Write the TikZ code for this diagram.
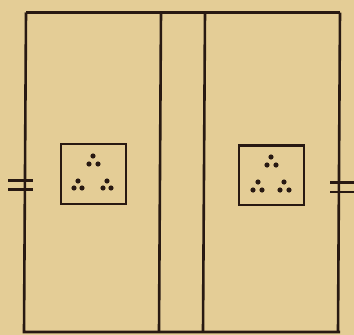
\documentclass[tikz,border=0pt]{standalone}
\definecolor{paper}{RGB}{228,205,150}
\definecolor{ink}{RGB}{40,25,18}
\begin{document}
\begin{tikzpicture}[x=1pt,y=-1pt,
  ln/.style={draw=ink,line width=2.6pt},
  bx/.style={draw=ink,line width=2.8pt},
  dt/.style={fill=ink},
  hg/.style={draw=ink,line width=2.4pt}]
\fill[paper] (0,0) rectangle (354,335);
\useasboundingbox (0,0) rectangle (354,335);
% outer frame
\draw[ln] (26,12.5) -- (340,12.5);
\draw[ln] (26,12.5) -- (24,332) -- (340,332);
\draw[ln] (340,12.5) -- (338,332);
\draw[ln] (161,12.5) -- (159,332);
\draw[ln] (205,12.5) -- (203,332);
% left panel
\draw[bx] (61,144) rectangle (126,204);
\foreach \p in {(93,156),(89,164),(98,164),(78,181),(74,188),(82,188),(107,181),(103,188),(111,188)}
  \fill[dt] \p circle (2.6);
% right panel
\draw[bx] (239,145.5) rectangle (304,205);
\foreach \p in {(271,157),(267,165),(276,165),(258,182),(253,190),(262,190),(284,182),(280,190),(289,190)}
  \fill[dt] \p circle (2.6);
% hinges
\draw[hg] (8,180.5) -- (33,180.5);
\draw[hg] (8,189.5) -- (33,189.5);
\draw[hg] (330,182.5) -- (354,182.5);
\draw[hg] (330,192) -- (354,192);
\end{tikzpicture}
\end{document}
